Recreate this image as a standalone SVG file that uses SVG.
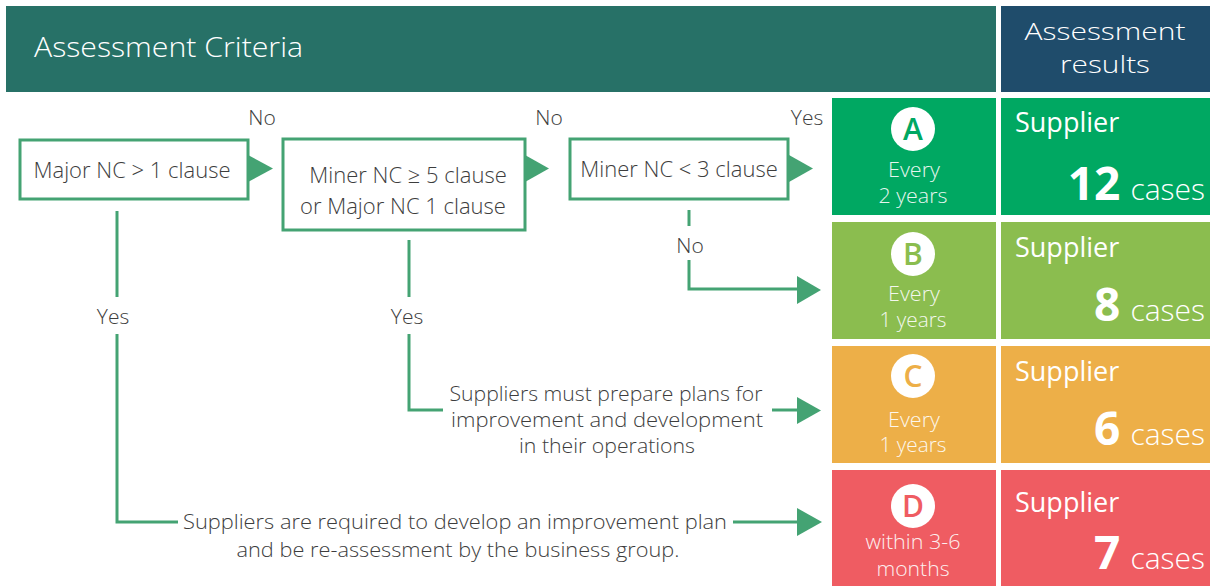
<svg xmlns="http://www.w3.org/2000/svg" width="1210" height="586" viewBox="0 0 1210 586">
<style>
.hd{font-family:"Open Sans","Noto Sans",sans-serif;font-size:27px;fill:#fff;font-weight:300;}
.hr{font-family:"Open Sans","Noto Sans",sans-serif;font-size:24px;fill:#fff;font-weight:300;text-anchor:middle;}
.fl{font-family:"Open Sans","Noto Sans",sans-serif;font-size:22px;fill:#3d3d3d;font-weight:300;}
.fs{font-family:"Open Sans","Noto Sans",sans-serif;font-size:20px;fill:#3d3d3d;font-weight:300;text-anchor:middle;}
.lb{font-family:"Open Sans","Noto Sans",sans-serif;font-size:21px;fill:#3d3d3d;font-weight:300;text-anchor:middle;}
.box{fill:#fff;stroke:#44a373;stroke-width:3;}
.ln{fill:none;stroke:#44a373;stroke-width:3;}
.ah{fill:#44a373;}
.sm{font-family:"Open Sans","Noto Sans",sans-serif;font-size:19.5px;fill:#fff;font-weight:300;text-anchor:middle;opacity:0.9;}
.sup{font-family:"Open Sans","Noto Sans",sans-serif;font-size:27px;fill:#fff;font-weight:400;}
.num{font-family:"Open Sans","Noto Sans",sans-serif;font-size:46px;fill:#fff;font-weight:700;}
.cs{font-family:"Open Sans","Noto Sans",sans-serif;font-size:30px;fill:#fff;font-weight:300;}
.lt{font-family:"Open Sans","Noto Sans",sans-serif;font-size:30px;font-weight:600;text-anchor:middle;}
</style>
<g id="header">
<rect x="6" y="6" width="990" height="86" fill="#277167"/>
<text class="hd" x="34" y="57" textLength="269" lengthAdjust="spacingAndGlyphs">Assessment Criteria</text>
<rect x="1001" y="6" width="209" height="86" fill="#1f4c6b"/>
<text class="hr" x="1105" y="40" textLength="161" lengthAdjust="spacingAndGlyphs">Assessment</text>
<text class="hr" x="1105" y="73" textLength="90" lengthAdjust="spacingAndGlyphs">results</text>
</g>
<g id="box1">
<rect class="box" x="20" y="140" width="228" height="59"/>
<text class="fl" x="132" y="178" text-anchor="middle">Major NC &gt; 1 clause</text>
</g>
<g id="box2">
<rect class="box" x="283" y="139" width="242" height="91"/>
<text class="fl" x="408" y="183" text-anchor="middle">Miner NC ≥ 5 clause</text>
<text class="fl" x="403" y="214" text-anchor="middle">or Major NC 1 clause</text>
</g>
<g id="box3">
<rect class="box" x="570" y="139" width="218" height="60"/>
<text class="fl" x="679" y="177" text-anchor="middle">Miner NC &lt; 3 clause</text>
</g>
<g id="connectors">
<polygon class="ah" points="248,155 273,168.5 248,182"/>
<polygon class="ah" points="525,155 549,168.5 525,182"/>
<polygon class="ah" points="789,155 813,168.5 789,182"/>
<text class="lb" x="262" y="125">No</text>
<text class="lb" x="549" y="125">No</text>
<text class="lb" x="807" y="125">Yes</text>
<line class="ln" x1="117" y1="211" x2="117" y2="297"/>
<text class="lb" x="113" y="324">Yes</text>
<polyline class="ln" points="117,334 117,522 178,522"/>
<text class="fs" x="455" y="529" textLength="544" lengthAdjust="spacingAndGlyphs">Suppliers are required to develop an improvement plan</text>
<text class="fs" x="458" y="557" textLength="443" lengthAdjust="spacingAndGlyphs">and be re-assessment by the business group.</text>
<line class="ln" x1="733" y1="522" x2="799" y2="522"/>
<polygon class="ah" points="797,508 822,522 797,536"/>
<line class="ln" x1="409" y1="240" x2="409" y2="297"/>
<text class="lb" x="407" y="324">Yes</text>
<polyline class="ln" points="409,334 409,410 443,410"/>
<text class="fs" x="606" y="401" textLength="313" lengthAdjust="spacingAndGlyphs">Suppliers must prepare plans for</text>
<text class="fs" x="607" y="427" textLength="312" lengthAdjust="spacingAndGlyphs">improvement and development</text>
<text class="fs" x="607" y="453" textLength="176" lengthAdjust="spacingAndGlyphs">in their operations</text>
<line class="ln" x1="772" y1="410" x2="799" y2="410"/>
<polygon class="ah" points="797,397 821,410.5 797,424"/>
<line class="ln" x1="689" y1="210" x2="689" y2="226"/>
<text class="lb" x="690" y="253">No</text>
<polyline class="ln" points="689,260 689,289 799,289"/>
<polygon class="ah" points="797,276 821,290 797,304"/>
</g>
<g id="gradeA">
<rect x="832" y="98" width="164" height="117" fill="#00a862"/>
<circle cx="913" cy="129" r="22" fill="#fff"/>
<text class="lt" x="913" y="140" fill="#00a862">A</text>
<text class="sm" x="914" y="177" textLength="52" lengthAdjust="spacingAndGlyphs">Every</text>
<text class="sm" x="913" y="203" textLength="69" lengthAdjust="spacingAndGlyphs">2 years</text>
</g>
<g id="resultA">
<rect x="1001" y="98" width="209" height="117" fill="#00a862"/>
<text class="sup" x="1015" y="132">Supplier</text>
<text x="1205" y="200" text-anchor="end"><tspan class="num">12</tspan><tspan class="cs" dx="10">cases</tspan></text>
</g>
<g id="gradeB">
<rect x="832" y="222" width="164" height="117" fill="#8bbd4f"/>
<circle cx="913" cy="254" r="22" fill="#fff"/>
<text class="lt" x="913" y="265" fill="#8bbd4f">B</text>
<text class="sm" x="914" y="301" textLength="52" lengthAdjust="spacingAndGlyphs">Every</text>
<text class="sm" x="913" y="327" textLength="67" lengthAdjust="spacingAndGlyphs">1 years</text>
</g>
<g id="resultB">
<rect x="1001" y="222" width="209" height="117" fill="#8bbd4f"/>
<text class="sup" x="1015" y="257">Supplier</text>
<text x="1205" y="321" text-anchor="end"><tspan class="num">8</tspan><tspan class="cs" dx="10">cases</tspan></text>
</g>
<g id="gradeC">
<rect x="832" y="346" width="164" height="117" fill="#edaf48"/>
<circle cx="913" cy="376" r="22" fill="#fff"/>
<text class="lt" x="913" y="387" fill="#edaf48">C</text>
<text class="sm" x="914" y="427" textLength="52" lengthAdjust="spacingAndGlyphs">Every</text>
<text class="sm" x="913" y="452" textLength="67" lengthAdjust="spacingAndGlyphs">1 years</text>
</g>
<g id="resultC">
<rect x="1001" y="346" width="209" height="117" fill="#edaf48"/>
<text class="sup" x="1015" y="381">Supplier</text>
<text x="1205" y="445" text-anchor="end"><tspan class="num">6</tspan><tspan class="cs" dx="10">cases</tspan></text>
</g>
<g id="gradeD">
<rect x="832" y="470" width="164" height="116" fill="#ef5c62"/>
<circle cx="913" cy="506" r="22" fill="#fff"/>
<text class="lt" x="913" y="517" fill="#ef5c62">D</text>
<text class="sm" x="913" y="549" textLength="95" lengthAdjust="spacingAndGlyphs">within 3-6</text>
<text class="sm" x="913" y="576" textLength="73" lengthAdjust="spacingAndGlyphs">months</text>
</g>
<g id="resultD">
<rect x="1001" y="470" width="209" height="116" fill="#ef5c62"/>
<text class="sup" x="1015" y="512">Supplier</text>
<text x="1205" y="569" text-anchor="end"><tspan class="num">7</tspan><tspan class="cs" dx="10">cases</tspan></text>
</g>
</svg>
